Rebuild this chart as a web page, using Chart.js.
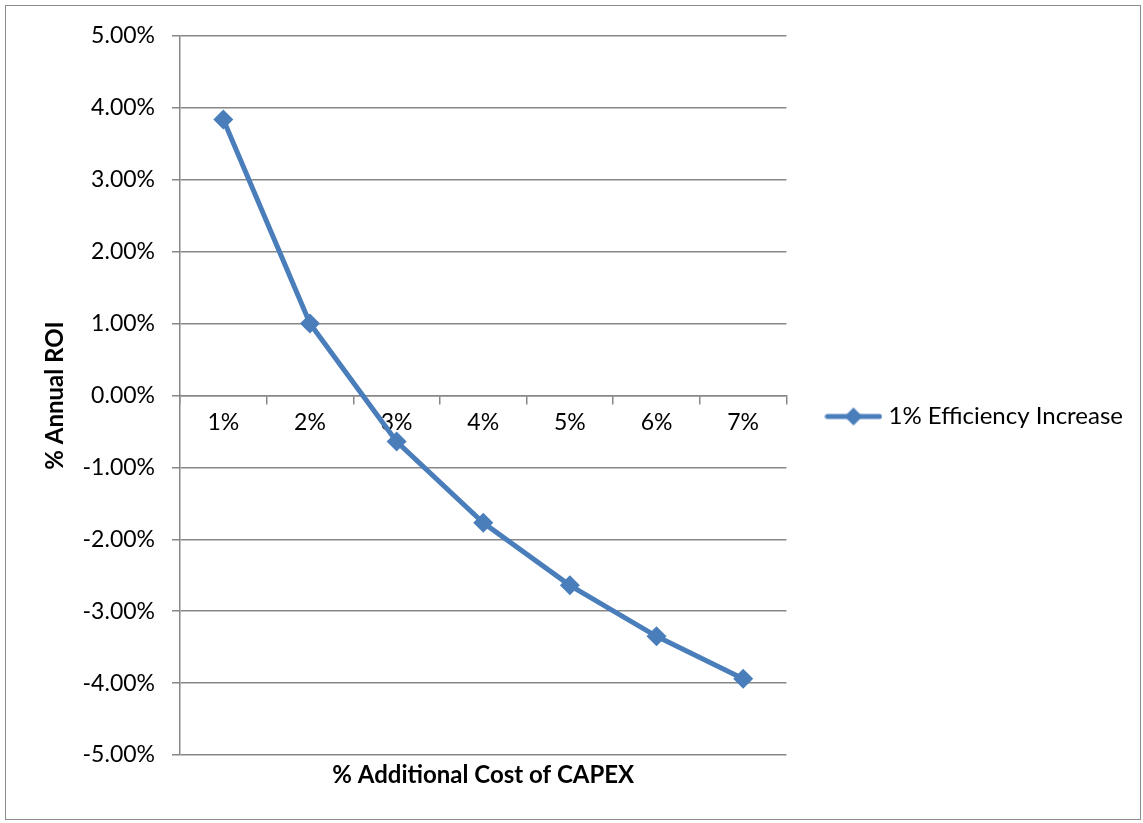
<!DOCTYPE html>
<html>
<head>
<meta charset="utf-8">
<script src="https://cdn.jsdelivr.net/npm/chart.js@4.4.0/dist/chart.umd.min.js"></script>
<style>
  html, body { margin: 0; padding: 0; background: #fff; }
  #wrap { position: relative; width: 1143px; height: 823px; }
  #frame { position: absolute; left: 5px; top: 5px; width: 1134px; height: 813px; border: 1px solid #8c8c8c; pointer-events: none; }
  canvas { position: absolute; left: 0; top: 0; }
</style>
</head>
<body>
<div id="wrap">
  <canvas id="roi-chart" width="1143" height="823"></canvas>
  <div id="frame"></div>
</div>
<script>
// Values
const capexLabels = ['1%', '2%', '3%', '4%', '5%', '6%', '7%'];
const roiValues = [0.0384, 0.0100, -0.0064, -0.0177, -0.0264, -0.0335, -0.0394];
const seriesName = '1% Efficiency Increase';

const lineBlue = '#4A7EBB';
const gridGray = '#878787';
const fontFamily = 'Lato, "Open Sans", sans-serif';

// legend marker: short line with a diamond in the middle
function legendMarker() {
  const c = document.createElement('canvas');
  c.width = 58;
  c.height = 20;
  const g = c.getContext('2d');
  g.strokeStyle = lineBlue;
  g.lineWidth = 5;
  g.lineCap = 'round';
  g.beginPath();
  g.moveTo(3, 10);
  g.lineTo(55, 10);
  g.stroke();
  g.fillStyle = lineBlue;
  g.beginPath();
  g.moveTo(29, 1);
  g.lineTo(38, 10);
  g.lineTo(29, 19);
  g.lineTo(20, 10);
  g.closePath();
  g.fill();
  return c;
}

// side boxes are capped at a quarter of the width, let the legend be wider
const wideLegend = {
  id: 'wideLegend',
  beforeLayout(chart) {
    const legend = chart.legend;
    if (!legend || legend.wideFit) return;
    const fit = legend.fit;
    legend.fit = function () {
      this.maxWidth = Math.max(this.maxWidth, 400);
      fit.call(this);
    };
    legend.wideFit = true;
  }
};

const ctx = document.getElementById('roi-chart').getContext('2d');
new Chart(ctx, {
  type: 'line',
  data: {
    labels: capexLabels,
    datasets: [{
      label: seriesName,
      data: roiValues,
      xAxisID: 'x',
      borderColor: lineBlue,
      backgroundColor: lineBlue,
      borderWidth: 5,
      pointStyle: 'rectRot',
      pointRadius: 10,
      pointHoverRadius: 10,
      pointBorderWidth: 0,
      tension: 0,
      fill: false,
    }]
  },
  plugins: [wideLegend],
  options: {
    responsive: false,
    animation: false,
    events: [],
    layout: { padding: { top: 36, left: 0, bottom: 0, right: 10 } },
    plugins: {
      tooltip: { enabled: false },
      legend: {
        position: 'right',
        fullSize: false,
        title: { display: true, text: ' ', font: { size: 10 }, padding: 15 },
        labels: {
          usePointStyle: true,
          pointStyleWidth: 46,
          padding: 44,
          color: '#000',
          font: { family: fontFamily, size: 24 },
          generateLabels: (chart) => [{
            text: seriesName,
            pointStyle: legendMarker(),
            fillStyle: lineBlue,
            strokeStyle: lineBlue,
            fontColor: '#000',
            lineWidth: 0,
            datasetIndex: 0,
          }]
        }
      }
    },
    scales: {
      x: {
        type: 'category',
        position: 'bottom',
        offset: true,
        ticks: { display: false },
        grid: { display: false },
        border: { display: false },
        title: {
          display: true,
          text: '% Additional Cost of CAPEX',
          color: '#000',
          font: { family: fontFamily, size: 24, weight: 'bold' },
          padding: { top: 0, bottom: 33.6 }
        },
        afterFit: (s) => { s.height = 68; }
      },
      x2: {
        type: 'category',
        position: { y: 0 },
        offset: true,
        grid: {
          offset: true,
          drawOnChartArea: false,
          drawTicks: true,
          tickLength: 8,
          color: gridGray,
          lineWidth: 1.5,
        },
        border: { display: true, color: gridGray, width: 1.5 },
        ticks: {
          color: '#000',
          padding: 5,
          font: { family: fontFamily, size: 23 },
        }
      },
      y: {
        min: -0.05,
        max: 0.05,
        ticks: {
          stepSize: 0.01,
          color: '#000',
          padding: 17,
          font: { family: fontFamily, size: 23 },
          callback: (v) => (v * 100).toFixed(2) + '%'
        },
        grid: { color: gridGray, lineWidth: 1.5, tickLength: 8 },
        border: { display: true, color: gridGray, width: 1.5 },
        title: {
          display: true,
          text: '% Annual ROI',
          color: '#000',
          font: { family: fontFamily, size: 24, weight: 'bold' },
          padding: { top: 40.6, bottom: 0 }
        },
        afterFit: (s) => { s.width = 180; }
      }
    }
  }
});
</script>
</body>
</html>
